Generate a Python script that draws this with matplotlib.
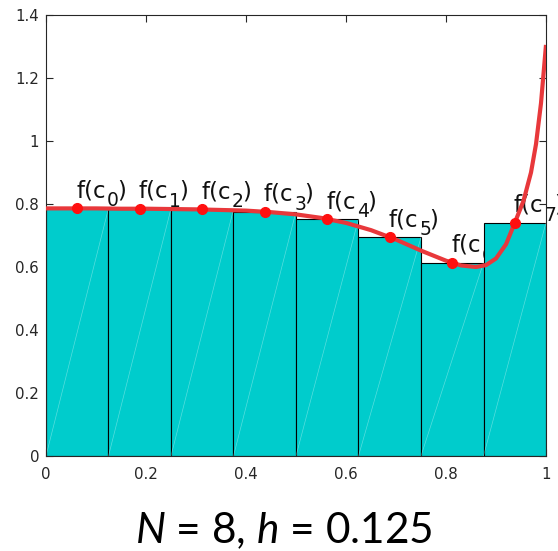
import numpy as np
import matplotlib
matplotlib.use("Agg")
import matplotlib.pyplot as plt
from matplotlib.transforms import offset_copy

plt.rcParams['font.family'] = ['DejaVu Sans']
plt.rcParams['mathtext.fontset'] = 'custom'
plt.rcParams['mathtext.rm'] = 'Lato'
plt.rcParams['mathtext.it'] = 'Lato:italic'

# Sampled values of f(x) on [0, 1]
curve_x = [0.0, 0.05, 0.1, 0.15, 0.2, 0.25, 0.3, 0.35, 0.4, 0.45, 0.5, 0.55,
           0.6, 0.65, 0.7, 0.75, 0.8, 0.83, 0.86, 0.88, 0.9, 0.92, 0.94,
           0.955, 0.97, 0.98, 0.99, 1.0]
curve_y = [0.786, 0.786, 0.786, 0.785, 0.785, 0.784, 0.783, 0.781, 0.779,
           0.774, 0.767, 0.756, 0.740, 0.717, 0.687, 0.652, 0.620, 0.605,
           0.600, 0.606, 0.627, 0.672, 0.750, 0.81, 0.90, 0.99, 1.12, 1.305]

# Midpoints c_i and values f(c_i) for N = 8 subintervals
midpoints = [0.0625, 0.1875, 0.3125, 0.4375, 0.5625, 0.6875, 0.8125, 0.9375]
mid_values = [0.786, 0.785, 0.783, 0.776, 0.752, 0.694, 0.614, 0.741]
subscripts = ['0', '1', '2', '3', '4', '5', '6', '7']
width = 0.125

fig = plt.figure(figsize=(5.58, 5.51), dpi=100)
ax = fig.add_axes([0.0824, 0.1724, 0.8961, 0.8004])


def at(dx, dy):
    # data position shifted by (dx, dy) points
    return offset_copy(ax.transData, fig=fig, x=dx, y=dy, units='points')


# "f(c_i)" labels sit beneath the bars so neighbouring bars cover them
for c, v, sub in zip(midpoints, mid_values, subscripts):
    kw = dict(ha='left', va='baseline', zorder=1, clip_on=False,
              color='#111111')
    ax.text(c, v, "f(c", fontsize=16.5, transform=at(-0.6, 8.0), **kw)
    ax.text(c, v, sub, fontsize=13.5, transform=at(21.4, 1.4), **kw)
    ax.text(c, v, ")", fontsize=16.5, transform=at(28.6, 8.0), **kw)

ax.bar(midpoints, mid_values, width=width, color='#00CCCC',
       edgecolor='black', linewidth=0.8, zorder=2)
for c, v in zip(midpoints, mid_values):
    ax.plot([c - width / 2, c + width / 2], [0, v], color='white',
            alpha=0.35, lw=0.5, zorder=2.5)

ax.plot(curve_x, curve_y, color='#E8383B', lw=3.0, zorder=3,
        solid_capstyle='butt')
ax.plot(midpoints, mid_values, 'o', color='#FF1010', ms=7, zorder=4)

ax.set_xlim(0, 1)
ax.set_ylim(0, 1.4)
ax.set_xticks([0, 0.2, 0.4, 0.6, 0.8, 1])
ax.set_xticklabels(['0', '0.2', '0.4', '0.6', '0.8', '1'])
ax.set_yticks([0, 0.2, 0.4, 0.6, 0.8, 1, 1.2, 1.4])
ax.set_yticklabels(['0', '0.2', '0.4', '0.6', '0.8', '1', '1.2', '1.4'])
ax.tick_params(direction='in', top=True, right=True, length=5, width=0.8,
               labelsize=10.8, colors='#262626')
ax.tick_params(axis='x', pad=8)
ax.tick_params(axis='y', pad=5)
for s in ax.spines.values():
    s.set_linewidth(0.8)
    s.set_color('#262626')

fig.text(0.509, 0.0145, "$N$ = 8, $h$ = 0.125", fontsize=30.5, ha='center',
         va='baseline', family='Lato')

fig.savefig("out.png", dpi=100)
